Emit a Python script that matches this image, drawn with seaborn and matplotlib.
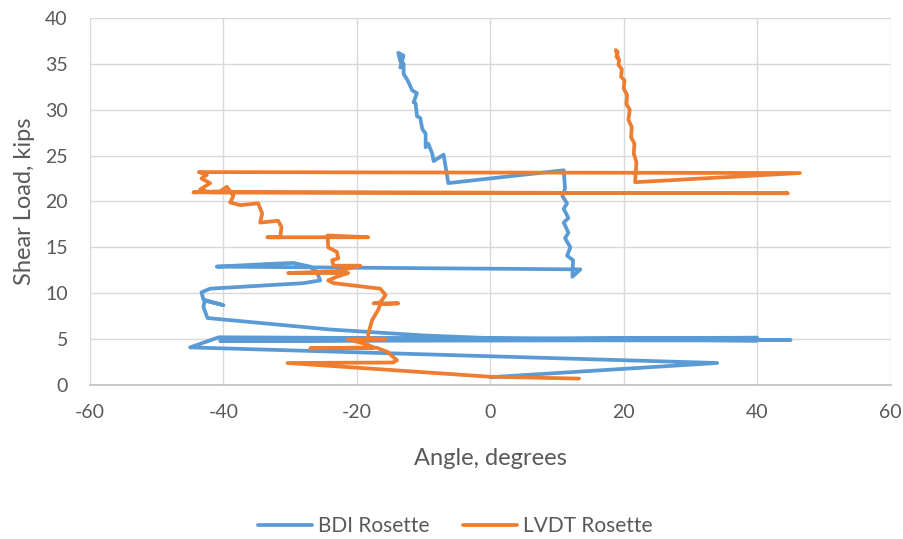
import matplotlib
matplotlib.use("Agg")
import matplotlib.pyplot as plt
import seaborn as sns
import pandas as pd

# BDI rosette: shear angle (degrees) vs applied shear load (kips)
BDI_ANGLE = [
    0.0, 34.0, -45.0, -40.7, 45.0, -40.5, 40.0, -40.0, 40.0, 2.0,
    -10.0, -24.0, -42.4, -43.0, -42.8, -40.0, -43.0, -43.3, -42.0, -35.0,
    -28.0, -25.5, -26.0, -27.0, -29.5, -33.0, -41.0, 13.5, 12.3, 12.4,
    11.5, 12.0, 11.2, 11.7, 11.0, 11.7, 11.0, 11.5, 10.8, 11.2,
    11.0, -6.3, -7.0, -8.5, -8.7, -9.3, -9.7, -9.7, -10.2, -10.5,
    -11.0, -11.2, -11.5, -11.0, -11.7, -12.4, -13.0, -13.0, -13.5, -13.8,
    -13.0, -13.5,
]
BDI_LOAD = [
    0.85, 2.4, 4.1, 5.2, 4.9, 4.8, 5.15, 5.0, 4.85, 5.05,
    5.4, 6.05, 7.3, 8.5, 9.2, 8.7, 9.3, 10.1, 10.5, 10.8,
    11.1, 11.4, 12.3, 12.9, 13.3, 13.2, 12.9, 12.6, 11.8, 13.6,
    14.1, 15.0, 16.0, 16.6, 17.7, 18.2, 19.2, 19.8, 20.6, 21.4,
    23.4, 22.0, 25.1, 24.4, 25.2, 26.3, 25.9, 27.4, 27.9, 29.1,
    29.3, 30.7, 30.8, 31.8, 32.1, 33.2, 33.9, 35.0, 35.3, 36.2,
    35.9, 34.6,
]

# LVDT rosette: shear angle (degrees) vs applied shear load (kips)
LVDT_ANGLE = [
    13.3, 0.0, -30.4, -14.6, -14.0, -15.4, -17.0, -27.0, -17.5, -18.4,
    -21.4, -15.7, -18.3, -18.3, -17.7, -16.8, -16.5, -13.8, -17.5, -16.5,
    -15.7, -16.5, -20.0, -23.5, -24.3, -23.0, -21.3, -30.3, -23.0, -19.5,
    -23.5, -23.7, -22.8, -23.0, -24.3, -24.4, -18.3, -33.4, -31.5, -31.3,
    -31.8, -34.5, -34.2, -34.8, -37.5, -39.0, -38.5, -39.5, -40.5, -44.5,
    44.6, -42.0, -43.5, -42.0, -43.3, -42.5, -43.7, 46.4, 21.7, 21.9,
    21.5, 21.6, 21.1, 21.2, 20.7, 20.9, 20.4, 20.5, 20.0, 20.1,
    19.6, 19.7, 19.2, 19.3, 18.9, 19.1, 18.8, 19.2,
]
LVDT_LOAD = [
    0.7, 0.9, 2.4, 2.45, 2.7, 3.6, 4.05, 4.0, 4.1, 4.4,
    5.0, 5.0, 5.1, 5.6, 7.1, 8.2, 8.8, 8.9, 8.9, 9.0,
    9.8, 10.5, 10.8, 11.1, 11.4, 11.8, 12.2, 12.2, 12.4, 13.0,
    13.0, 13.6, 13.8, 14.5, 15.0, 16.3, 16.1, 16.1, 16.1, 17.2,
    17.9, 17.7, 18.7, 19.8, 19.6, 19.9, 20.6, 21.6, 21.1, 21.0,
    20.9, 21.0, 21.3, 22.0, 22.5, 22.9, 23.2, 23.1, 22.1, 24.3,
    25.2, 26.3, 27.0, 28.1, 28.9, 30.0, 30.6, 31.6, 32.3, 33.2,
    33.6, 34.4, 34.9, 35.4, 35.8, 36.3, 36.5, 35.6,
]

SERIES = ["BDI Rosette", "LVDT Rosette"]
COLORS = {"BDI Rosette": "#5B9BD5", "LVDT Rosette": "#ED7D31"}

X_TICKS = [-60, -40, -20, 0, 20, 40, 60]
Y_TICKS = [0, 5, 10, 15, 20, 25, 30, 35, 40]

df = pd.concat([
    pd.DataFrame({"angle": BDI_ANGLE, "load": BDI_LOAD, "series": SERIES[0]}),
    pd.DataFrame({"angle": LVDT_ANGLE, "load": LVDT_LOAD, "series": SERIES[1]}),
], ignore_index=True)

sns.set_theme(style="white")
plt.rcParams["font.family"] = ["Lato", "DejaVu Sans"]
plt.rcParams["axes.unicode_minus"] = False
TEXT = "#595959"

fig = plt.figure(figsize=(9.04, 5.39), dpi=100)
ax = fig.add_axes([0.0996, 0.2857, 0.8856, 0.681])

sns.lineplot(data=df, x="angle", y="load", hue="series", units="series",
             estimator=None, sort=False, palette=COLORS, linewidth=2.7,
             ax=ax, zorder=3)
for line in ax.get_lines():
    line.set_solid_capstyle("round")
    line.set_solid_joinstyle("round")

ax.set_xlim(-60, 60)
ax.set_ylim(0, 40)
ax.set_xticks(X_TICKS)
ax.set_yticks(Y_TICKS)
ax.grid(True, color="#D9D9D9", linewidth=1.0)
ax.set_axisbelow(True)
for side in ["top", "right", "left"]:
    ax.spines[side].set_visible(False)
ax.spines["bottom"].set_color("#BFBFBF")
ax.spines["bottom"].set_linewidth(1.2)

ax.tick_params(axis="both", length=0, labelsize=14, labelcolor=TEXT)
ax.tick_params(axis="x", pad=14)
ax.tick_params(axis="y", pad=16)

ax.set_xlabel("Angle, degrees", fontsize=17, color=TEXT, labelpad=19)
ax.set_ylabel("Shear Load, kips", fontsize=17, color=TEXT, labelpad=7)

sns.move_legend(ax, "center", bbox_to_anchor=(0.456, -0.385), ncol=2,
                frameon=False, title=None, fontsize=15,
                handlelength=2.6, columnspacing=1.6, handletextpad=0.3)
for t in ax.get_legend().get_texts():
    t.set_color(TEXT)

fig.savefig("out.png", dpi=100)
